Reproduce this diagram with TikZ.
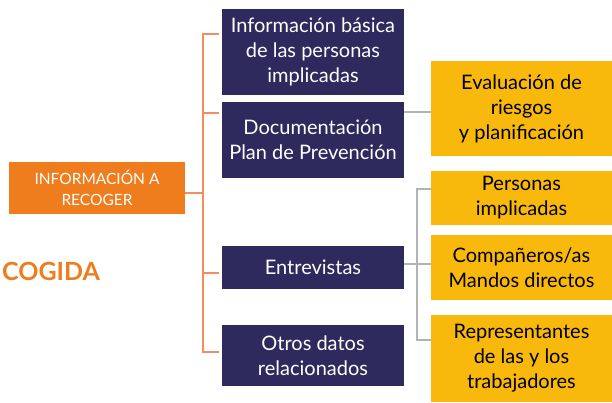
\documentclass[tikz,border=0pt]{standalone}
\usepackage{fontspec}
\setmainfont{Lato}
\definecolor{navy}{HTML}{2E2A5E}
\definecolor{orangefill}{HTML}{EF7D1E}
\definecolor{gold}{HTML}{F8B90C}
\definecolor{orangeline}{HTML}{F48D5E}
\definecolor{greyline}{HTML}{B3B3B3}
\tikzset{
  navybox/.style={fill=navy,text=white,inner sep=0pt,align=center,
    font=\fontsize{20}{25}\selectfont},
  goldbox/.style={fill=gold,text=black,inner sep=0pt,align=center,
    font=\fontsize{20}{25}\selectfont},
  orangebox/.style={fill=orangefill,text=white,inner sep=0pt,align=center,
    font=\fontsize{15.5}{21}\selectfont},
  orangelink/.style={draw=orangeline,line width=1.6pt},
  greylink/.style={draw=greyline,line width=1.6pt}
}
\begin{document}
\begin{tikzpicture}[x=1pt,y=-1pt]
  \useasboundingbox[fill=white] (0,0) rectangle (612,402);
  % left side
  \node[orangebox,minimum width=176pt,minimum height=52pt] (recoger) at (97,187.5)
    {INFORMACIÓN A\\RECOGER};
  \node[anchor=west,inner sep=0pt,text=orangefill,font=\fontsize{25}{30}\selectfont\bfseries] (cogida) at (2,271) {COGIDA};
  % middle column
  \node[navybox,minimum width=182pt,minimum height=86pt] (basica) at (313,52)
    {Información básica\\de las personas\\implicadas};
  \node[navybox,minimum width=182pt,minimum height=76pt] (docu) at (313,140)
    {Documentación\\Plan de Prevención};
  \node[navybox,minimum width=182pt,minimum height=43pt] (entrev) at (313,267.5)
    {Entrevistas};
  \node[navybox,minimum width=182pt,minimum height=61pt] (otros) at (313,355.5)
    {Otros datos\\relacionados};
  % right column
  \node[goldbox,minimum width=181pt,minimum height=95pt] (evalua) at (521.5,108.5)
    {Evaluación de\\riesgos\\y planificación};
  \node[goldbox,minimum width=181pt,minimum height=54pt] (personas) at (521.5,198)
    {Personas\\implicadas};
  \node[goldbox,minimum width=181pt,minimum height=65pt] (companeros) at (521.5,267.5)
    {Compañeros/as\\Mandos directos};
  \node[goldbox,minimum width=181pt,minimum height=87pt] (represent) at (521.5,358.5)
    {Representantes\\de las y los\\trabajadores};
  % orange bracket
  \coordinate (trunk) at (203,193);
  \draw[orangelink] ([yshift=-5.5pt]recoger.east) -- (trunk);
  \draw[orangelink] ([xshift=-3pt,yshift=18pt]basica.west) -| (trunk)
    |- ([xshift=-3pt,yshift=3.5pt]otros.west);
  \draw[orangelink] ([xshift=-3pt,yshift=27pt]docu.west) -- ++(-16,0);
  \draw[orangelink] ([xshift=-3pt,yshift=-5.5pt]entrev.west) -- ++(-16,0);
  % grey links
  \draw[greylink] ([yshift=28pt]docu.east) -- ([yshift=28pt]docu.east -| evalua.west);
  \coordinate (branch) at (417,264);
  \draw[greylink] ([yshift=3.5pt]entrev.east) -- ([yshift=3.5pt]companeros.west);
  \draw[greylink] ([yshift=9pt]personas.west) -| (branch)
    |- ([yshift=18.5pt]represent.west);
\end{tikzpicture}
\end{document}
